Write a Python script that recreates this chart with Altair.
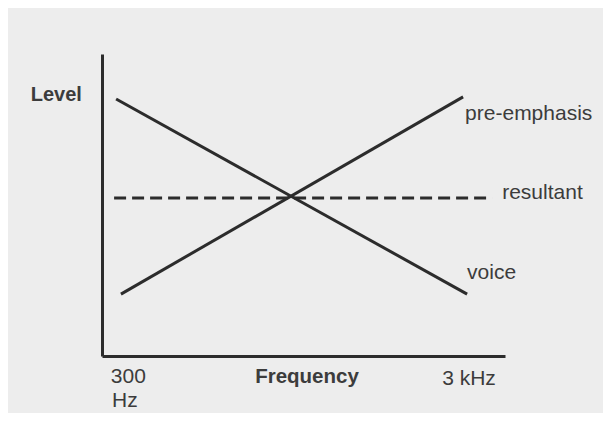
import altair as alt
import pandas as pd

# Schematic values (frequency position 0-100 along axis, level 0-100)
series = ["voice", "voice", "pre-emphasis", "pre-emphasis"]
freq_pts = [3.5, 90.6, 4.7, 89.6]
level_pts = [85.1, 20.5, 20.5, 85.8]

res_freq = [3.0, 96.8]
res_level = [52.3, 52.3]

labels = ["pre-emphasis", "resultant", "voice", "300", "Hz", "3 kHz"]
label_x = [90.1, 99.3, 90.6, 2.2, 2.5, 84.4]
label_y = [80.1, 54.0, 27.5, -7.0, -14.9, -7.6]

titles = ["Level", "Frequency"]
title_x = [-5.0, 38.0]
title_y = [86.4, -7.0]
title_align = ["right", "left"]

INK = "#2c2c2c"
TEXT = "#3c3c3c"
FONT = "Liberation Sans"

xs = alt.Scale(domain=[0, 100], nice=False, zero=False)
ys = alt.Scale(domain=[0, 100], nice=False, zero=False)
ax = alt.Axis(domain=True, ticks=False, labels=False, grid=False, title=None,
              domainColor=INK, domainWidth=3)

lines_df = pd.DataFrame({"series": series, "f": freq_pts, "l": level_pts})
res_df = pd.DataFrame({"f": res_freq, "l": res_level})
lab_df = pd.DataFrame({"t": labels, "x": label_x, "y": label_y})
tit_df = pd.DataFrame({"t": titles, "x": title_x, "y": title_y, "a": title_align})

solid = alt.Chart(lines_df).mark_line(color=INK, strokeWidth=3).encode(
    x=alt.X("f:Q", scale=xs, axis=ax),
    y=alt.Y("l:Q", scale=ys, axis=ax),
    detail="series:N",
)

dashed = alt.Chart(res_df).mark_line(color=INK, strokeWidth=3, strokeDash=[12, 6]).encode(
    x=alt.X("f:Q", scale=xs),
    y=alt.Y("l:Q", scale=ys),
)

text = alt.Chart(lab_df).mark_text(align="left", baseline="middle", font=FONT,
                                    fontSize=21, color=TEXT).encode(
    x=alt.X("x:Q", scale=xs), y=alt.Y("y:Q", scale=ys), text="t:N"
)

level_t = alt.Chart(tit_df[tit_df.a == "right"]).mark_text(
    align="right", baseline="middle", font=FONT, fontSize=20, fontWeight="bold", color=TEXT
).encode(x=alt.X("x:Q", scale=xs), y=alt.Y("y:Q", scale=ys), text="t:N")

freq_t = alt.Chart(tit_df[tit_df.a == "left"]).mark_text(
    align="left", baseline="middle", font=FONT, fontSize=20.5, fontWeight="bold", color=TEXT
).encode(x=alt.X("x:Q", scale=xs), y=alt.Y("y:Q", scale=ys), text="t:N")

chart = alt.layer(solid, dashed, text, level_t, freq_t).properties(
    width=403, height=302,
    autosize=alt.AutoSizeParams(type="none"),
    padding={"left": 94, "top": 46, "right": 98, "bottom": 57},
    background="#ededed",
).configure_view(stroke=None)

chart.save("out.html", embed_options={"renderer": "svg", "actions": False})
